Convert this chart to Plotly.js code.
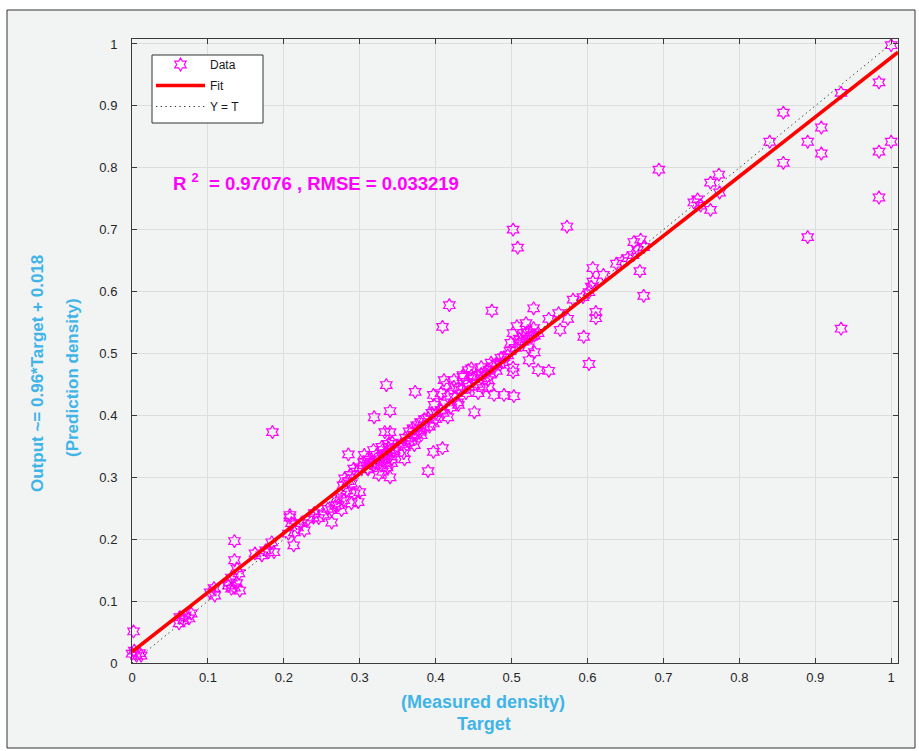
<!DOCTYPE html>
<html>
<head>
<meta charset="utf-8">
<script src="https://cdn.plot.ly/plotly-3.0.1.min.js"></script>
<style>
html,body{margin:0;padding:0;background:#ffffff;}
#chart{width:919px;height:751px;}
</style>
</head>
<body>
<div id="chart"></div>
<script>
// Measured density (Target) values
const targetValues = [
  0.000,0.006,0.003,0.010,0.002,0.012,
  0.063,0.070,0.075,0.062,0.068,0.078,
  0.108,0.109,0.103,
  0.135,0.135,0.138,0.131,0.141,0.127,0.135,0.131,0.142,0.128,0.138,
  0.162,0.171,0.184,0.187,0.180,0.185,0.176,
  0.208,0.210,0.214,0.213,0.206,0.223,0.227,0.239,0.246,0.208,0.240,0.218,0.232,
  0.252,0.258,0.263,0.263,0.268,0.272,0.270,0.275,0.278,0.279,0.280,0.283,0.285,0.285,0.289,0.289,0.293,0.298,0.300,0.300,0.296,0.288,0.292,0.276,
  0.306,0.313,0.319,0.311,0.310,0.315,0.320,0.325,0.330,0.335,0.335,0.340,0.340,0.330,0.328,0.333,0.338,0.342,0.345,0.336,0.322,0.318,0.310,0.305,0.338,0.343,0.330,0.325,0.332,0.329,0.342,0.340,0.335,0.319,0.340,0.333,0.340,0.359,0.373,
  0.350,0.355,0.360,0.365,0.370,0.375,0.380,0.385,0.390,0.358,0.368,0.375,0.380,0.395,0.400,0.392,0.390,0.397,0.409,0.359,0.365,0.372,0.371,0.381,0.377,0.385,0.397,0.397,
  0.407,0.416,0.416,0.429,0.411,0.424,0.436,0.443,0.420,0.430,0.411,0.398,0.401,0.410,0.407,0.414,0.424,0.436,0.447,0.444,0.434,0.451,0.418,0.409,0.425,0.430,0.440,0.440,
  0.450,0.455,0.465,0.470,0.475,0.480,0.485,0.490,0.495,0.455,0.462,0.447,0.460,0.472,0.480,0.489,0.460,0.473,0.486,0.460,0.469,0.470,0.456,0.477,0.490,0.474,0.498,
  0.503,0.505,0.510,0.515,0.520,0.520,0.525,0.530,0.499,0.510,0.522,0.530,0.523,0.535,0.549,0.502,0.502,0.519,0.529,0.502,0.515,0.526,0.535,0.529,0.502,0.508,0.507,
  0.549,0.562,0.574,0.564,0.573,0.581,0.594,0.602,0.595,0.602,0.605,
  0.611,0.611,0.607,0.607,0.621,0.638,0.646,0.653,0.661,0.670,0.674,0.666,0.660,0.669,0.674,0.694,
  0.740,0.745,0.749,0.762,0.773,0.762,0.774,0.840,0.858,0.858,0.890,0.890,0.908,0.908,0.934,0.934,0.984,1.000,0.984,0.984,0.984,1.000
];
// Predicted density (Output) values
const outputValues = [
  0.015,0.012,0.020,0.016,0.051,0.012,
  0.074,0.077,0.072,0.064,0.069,0.080,
  0.121,0.109,0.114,
  0.197,0.166,0.153,0.138,0.145,0.125,0.122,0.120,0.117,0.130,0.129,
  0.177,0.174,0.195,0.179,0.179,0.373,0.182,
  0.235,0.226,0.211,0.190,0.209,0.226,0.214,0.235,0.234,0.239,0.242,0.219,0.232,
  0.240,0.249,0.227,0.247,0.254,0.255,0.266,0.272,0.287,0.263,0.298,0.279,0.294,0.337,0.290,0.258,0.274,0.260,0.276,0.316,0.309,0.304,0.314,0.247,
  0.336,0.328,0.320,0.313,0.314,0.322,0.324,0.329,0.334,0.339,0.324,0.344,0.334,0.344,0.319,0.330,0.348,0.329,0.342,0.316,0.336,0.344,0.329,0.324,0.354,0.356,0.309,0.304,0.336,0.349,0.323,0.300,0.449,0.397,0.407,0.373,0.373,0.329,0.438,
  0.349,0.354,0.364,0.374,0.379,0.384,0.389,0.394,0.396,0.339,0.359,0.369,0.374,0.404,0.394,0.382,0.310,0.341,0.347,0.349,0.357,0.352,0.368,0.368,0.376,0.381,0.387,0.433,
  0.409,0.397,0.430,0.421,0.457,0.446,0.462,0.473,0.413,0.417,0.421,0.417,0.404,0.404,0.436,0.449,0.457,0.465,0.476,0.446,0.441,0.405,0.578,0.543,0.429,0.444,0.436,0.454,
  0.459,0.464,0.469,0.474,0.479,0.484,0.482,0.494,0.497,0.451,0.444,0.464,0.467,0.466,0.472,0.486,0.478,0.485,0.493,0.460,0.457,0.446,0.436,0.433,0.433,0.569,0.504,
  0.431,0.509,0.524,0.519,0.534,0.524,0.534,0.529,0.517,0.517,0.510,0.502,0.489,0.473,0.472,0.477,0.470,0.549,0.541,0.533,0.527,0.527,0.533,0.573,0.700,0.671,0.544,
  0.556,0.565,0.556,0.538,0.705,0.587,0.591,0.599,0.527,0.483,0.608,
  0.567,0.557,0.638,0.616,0.627,0.645,0.649,0.654,0.680,0.684,0.672,0.667,0.659,0.633,0.593,0.797,
  0.744,0.749,0.739,0.732,0.789,0.776,0.760,0.842,0.889,0.808,0.842,0.688,0.865,0.823,0.921,0.540,1.010,0.998,0.938,0.826,0.752,0.842
];
// Linear fit shown in the y label: Output ~= 0.96*Target + 0.018
const fitSlope = 0.96;
const fitIntercept = 0.018;
const fitX = [0, 1.009];
const identityX = [0, 1];
const tickValues = [0, 0.1, 0.2, 0.3, 0.4, 0.5, 0.6, 0.7, 0.8, 0.9, 1];
const tickLabels = ['0', '0.1', '0.2', '0.3', '0.4', '0.5', '0.6', '0.7', '0.8', '0.9', '1'];
const legendNames = ['Data', 'Fit', 'Y = T'];
const statsText = 'R <sup>2</sup>  = 0.97076 , RMSE = 0.033219';
const xTitleLines = ['(Measured density)', 'Target'];
const yTitleLines = ['Output ~= 0.96*Target + 0.018', '(Prediction density)'];

const fitY = fitX.map(x => fitSlope * x + fitIntercept);

const bg = '#f2f3f3';
const axisColor = '#3a3a3a';
const titleBlue = '#3fb5e7';
const magenta = '#ff00ff';
const font = 'Liberation Sans, Arial, sans-serif';

// pixel -> paper helpers for decorative placement
const L = 132, R = 21, T = 39, B = 88, W = 919, H = 751;
const pw = W - L - R, ph = H - T - B;
const px = v => (v - L) / pw;
const py = v => (H - B - v) / ph;

const traces = [
  {
    type: 'scatter', mode: 'markers', name: legendNames[0], legendgroup: 'a',
    x: targetValues, y: outputValues, cliponaxis: false,
    marker: {symbol: 'hexagram-open', size: 10, color: magenta, line: {color: magenta, width: 1.2}}
  },
  {
    type: 'scatter', mode: 'lines', name: legendNames[1], legendgroup: 'b',
    x: fitX, y: fitY, cliponaxis: false,
    line: {color: '#ff0000', width: 3.6}
  },
  {
    type: 'scatter', mode: 'lines', name: legendNames[2], legendgroup: 'c',
    x: identityX, y: identityX,
    line: {color: '#333333', width: 1, dash: '1.3px,3.4px'}
  }
];

const axisCommon = {
  tickvals: tickValues, ticktext: tickLabels,
  showgrid: true, gridcolor: '#dcdddd', gridwidth: 1,
  zeroline: false, showline: true, linecolor: axisColor, linewidth: 1,
  mirror: 'ticks', ticks: 'inside', ticklen: 5, tickwidth: 1, tickcolor: axisColor,
  tickfont: {family: font, size: 13, color: '#262626'},
  fixedrange: true
};

const layout = {
  width: W, height: H,
  margin: {l: L, r: R, t: T, b: B, pad: 0},
  paper_bgcolor: '#ffffff',
  plot_bgcolor: bg,
  showlegend: true,
  xaxis: Object.assign({}, axisCommon, {range: [0, 1.009], ticklabelstandoff: 2}),
  yaxis: Object.assign({}, axisCommon, {range: [0, 1.008], ticklabelstandoff: 11}),
  legend: {
    x: px(151), y: py(50), xanchor: 'left', yanchor: 'top',
    bgcolor: 'rgba(0,0,0,0)', borderwidth: 0,
    font: {family: font, size: 12, color: '#1a1a1a'},
    tracegroupgap: 2, itemwidth: 49
  },
  shapes: [
    {type: 'rect', xref: 'paper', yref: 'paper', layer: 'below',
     x0: px(7), x1: px(915), y0: py(748), y1: py(10),
     fillcolor: bg, line: {color: '#333333', width: 1}},
    {type: 'rect', xref: 'paper', yref: 'paper', layer: 'above',
     x0: px(152), x1: px(263), y0: py(123), y1: py(55),
     fillcolor: '#ffffff', line: {color: '#333333', width: 1}}
  ],
  annotations: [
    {xref: 'paper', yref: 'paper', x: px(171), y: py(182), xanchor: 'left', yanchor: 'middle',
     text: statsText, showarrow: false,
     font: {family: font, size: 18.5, color: magenta, weight: 'bold'}},
    {xref: 'paper', yref: 'paper', x: px(483), y: py(702),
     xanchor: 'center', yanchor: 'middle', text: xTitleLines[0], showarrow: false,
     font: {family: font, size: 18, color: titleBlue, weight: 'bold'}},
    {xref: 'paper', yref: 'paper', x: px(484), y: py(724),
     xanchor: 'center', yanchor: 'middle', text: xTitleLines[1], showarrow: false,
     font: {family: font, size: 18, color: titleBlue, weight: 'bold'}},
    {xref: 'paper', yref: 'paper', x: px(37), y: py(374),
     xanchor: 'center', yanchor: 'middle', textangle: -90, text: yTitleLines[0], showarrow: false,
     font: {family: font, size: 17, color: titleBlue, weight: 'bold'}},
    {xref: 'paper', yref: 'paper', x: px(72), y: py(378),
     xanchor: 'center', yanchor: 'middle', textangle: -90, text: yTitleLines[1], showarrow: false,
     font: {family: font, size: 17, color: titleBlue, weight: 'bold'}}
  ]
};

Plotly.newPlot('chart', traces, layout, {displayModeBar: false, staticPlot: true});
</script>
</body>
</html>
